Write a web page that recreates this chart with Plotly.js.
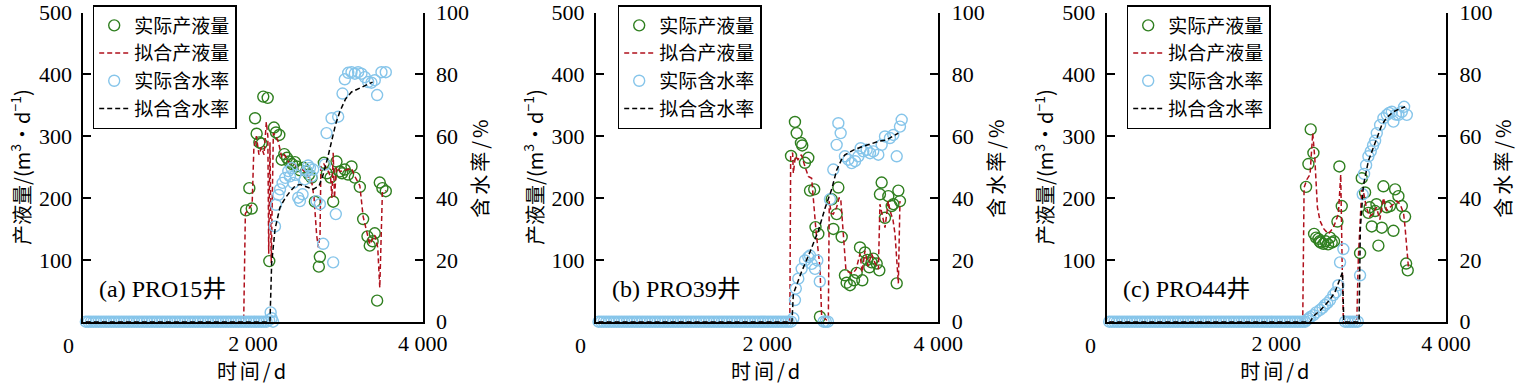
<!DOCTYPE html>
<html>
<head>
<meta charset="utf-8">
<script src="https://cdn.plot.ly/plotly-3.0.1.min.js"></script>
<style>
  html, body { margin: 0; padding: 0; background: #fff; }
  #chart { width: 1524px; height: 390px; }
  .xtitle, .x2title, .x3title, .y2title, .y4title, .y6title { letter-spacing: 3px; }
</style>
</head>
<body>
<div id="chart"></div>
<script>
// ---------------- DATA ----------------
// shut-in period (all wells): days with zero water cut
const baseDays = [30,60,90,120,150,180,210,240,270,300,330,360,
  390,420,450,480,510,540,570,600,630,660,690,720,
  750,780,810,840,870,900,930,960,990,1020,1050,1080,
  1110,1140,1170,1200,1230,1260,1290,1320,1350,1380,1410,1440,
  1470,1500,1530,1560,1590,1620,1650,1680,1710,1740,1770,1800,
  1830,1860,1890,1920,1950,1980,2010,2040,2070,2100,2130,2160];
const baseZeros = [0,0,0,0,0,0,0,0,0,0,0,0,
  0,0,0,0,0,0,0,0,0,0,0,0,
  0,0,0,0,0,0,0,0,0,0,0,0,
  0,0,0,0,0,0,0,0,0,0,0,0,
  0,0,0,0,0,0,0,0,0,0,0,0,
  0,0,0,0,0,0,0,0,0,0,0,0];

const seriesNames = ['实际产液量', '拟合产液量', '实际含水率', '拟合含水率'];
const panelLabels = ['(a) PRO15井', '(b) PRO39井', '(c) PRO44井'];
const xTickVals = [2000, 4000];
const xTickText = ['2 000', '4 000'];
const xZeroLabel = '0';
const yLeftTicks = [100, 200, 300, 400, 500];
const yRightTicks = [0, 20, 40, 60, 80, 100];
const xTitle = '时间/d';
const yLeftTitle = '产液量/(m<sup>3</sup>·d<sup>−1</sup>)';
const yRightTitle = '含水率/%';

// ---- (a) PRO15 ----
const aProdDays = [1918,1957,1985,2024,2043,2075,2102,2121,2173,2192,2247,2271,2310,2338,2369,2400,2427,2460,2494,2514,2550,2592,2632,2660,2690,2729,2776,2788,2835,2870,2914,2945,2984,3024,3050,3082,3120,3161,3200,3259,3298,3349,3376,3410,3435,3463,3494,3525,3565];
const aProdVals = [180,216,183,329,304,290,288,364,362,98,314,306,302,262,271,265,259,255,258,251,245,249,243,238,233,194,89,105,257,240,233,194,259,243,240,246,238,251,233,218,166,138,123,130,143,34,225,216,211];
const aFitProdDays = [30,1890,1910,1960,1990,2010,2040,2070,2100,2130,2157,2175,2185,2200,2215,2240,2270,2300,2340,2370,2420,2490,2520,2590,2630,2690,2720,2750,2770,2790,2800,2835,2880,2914,2930,2945,2960,2984,3024,3082,3161,3200,3259,3298,3349,3376,3435,3470,3494,3510,3525,3565];
const aFitProdVals = [0,0,175,185,190,280,300,270,282,270,323,300,110,290,95,305,300,290,265,270,258,255,250,245,240,228,200,140,120,140,250,255,245,235,200,273,200,250,243,245,248,235,220,170,140,125,140,120,55,150,210,212];
const aWcDays = [2190,2208,2220,2236,2259,2271,2300,2318,2349,2380,2416,2435,2455,2475,2500,2533,2553,2584,2610,2632,2650,2671,2690,2710,2749,2788,2827,2847,2867,2926,2945,2976,3004,3055,3082,3122,3161,3200,3239,3278,3318,3357,3396,3435,3463,3514,3565];
const aWcVals = [0.5,3.0,1.1,0,30.8,37.8,41,42.8,44.9,46.5,48.7,47,49.7,44.9,47.5,40.1,39,41.2,46,48.7,50.5,49.7,47,49.2,39,38,25.2,50.8,61,65.8,19.2,34.8,66.3,73.8,78.4,80.5,80.7,80.2,80.7,80.2,79.1,77.5,77.3,78.1,73.3,80.7,80.7];
const aFitWcDays = [30,2200,2220,2260,2318,2380,2435,2500,2553,2630,2710,2780,2827,2880,2925,2975,3024,3090,3161,3250,3330,3410];
const aFitWcVals = [0,0,19,30,37,40,42,44,44.4,43.5,42.8,44,47.6,53,58,64,68,72,74.3,75.5,76.5,77.5];

// ---- (b) PRO39 ----
const bProdDays = [2279,2325,2345,2395,2410,2442,2481,2501,2550,2565,2598,2617,2754,2773,2812,2832,2871,2909,2929,2968,3015,3046,3085,3112,3143,3170,3194,3220,3240,3280,3311,3318,3338,3377,3416,3455,3475,3514,3533,3552];
const bProdVals = [268,323,305,289,285,257,265,212,214,153,142,8,198,150,174,217,137,75,63,59,67,79,120,67,112,100,88,96,102,94,83,206,225,168,203,187,190,62,212,195];
const bFitProdDays = [30,2265,2275,2298,2306,2330,2360,2400,2442,2481,2520,2571,2617,2637,2695,2715,2726,2750,2773,2812,2840,2859,2890,2921,2960,3000,3040,3085,3110,3143,3180,3220,3260,3300,3318,3377,3416,3435,3470,3494,3533,3552];
const bFitProdVals = [0,0,270,273,240,268,262,270,251,235,232,147,88,8,3,5,195,175,174,185,200,200,142,83,80,78,85,110,80,115,90,110,95,85,190,152,195,180,165,142,62,195];
const bWcDays = [2190,2220,2250,2280,2306,2325,2335,2364,2403,2442,2481,2501,2520,2559,2586,2615,2660,2685,2710,2734,2773,2812,2832,2859,2909,2948,2988,3027,3066,3093,3124,3163,3202,3240,3299,3338,3377,3435,3474,3514,3552,3572];
const bWcVals = [0,0,0,0,1.1,7,10.7,13.9,17.1,19.8,20.9,21.4,18.7,17.1,19.8,13,0,0,0,39.6,49.2,57.2,64.2,61,53.5,52.4,51.3,51.9,53.5,56.1,55.1,55.6,54.5,55.1,54,57.2,59.9,59.4,60.4,53.5,63.1,65.3];
const bFitWcDays = [30,2290,2306,2400,2500,2598,2680,2754,2812,2870,2909,3007,3100,3200,3300,3396,3533];
const bFitWcVals = [0,0,9,16,22.5,29.4,37,42.8,49,52.5,54,55.5,56.5,57.5,58.3,58.8,61];

// ---- (c) PRO44 ----
const cProdDays = [2350,2378,2405,2437,2445,2468,2496,2510,2523,2555,2580,2610,2633,2653,2680,2720,2743,2771,2987,3007,3046,3085,3100,3125,3164,3180,3203,3243,3262,3302,3341,3380,3400,3439,3479,3518,3530,3549];
const cProdVals = [218,255,311,273,142,136,134,130,128,126,130,125,136,128,130,162,251,187,111,232,209,176,185,154,179,190,123,152,219,185,187,147,214,203,187,170,94,83];
const cFitProdDays = [30,2311,2327,2360,2397,2429,2453,2484,2515,2560,2613,2672,2731,2759,2775,2790,2948,2967,3007,3026,3060,3100,3140,3180,3220,3262,3300,3340,3380,3420,3460,3500,3518,3557];
const cFitProdVals = [0,0,217,230,238,305,265,185,163,150,142,152,174,238,100,0,0,104,215,211,185,170,175,185,165,200,180,185,190,195,190,175,152,88];
const cWcDays = [2190,2220,2250,2280,2310,2340,2358,2380,2400,2437,2470,2515,2545,2574,2600,2633,2672,2700,2731,2751,2790,2810,2840,2870,2900,2930,2960,2987,3018,3034,3058,3085,3113,3140,3164,3184,3223,3262,3302,3330,3361,3380,3410,3439,3479,3506,3538];
const cWcVals = [0,0,0,0,0,0,0.5,1,1.5,2.1,3,3.8,4.5,5.4,6,7,8.6,9.5,11.8,19.2,23.5,0,0,0,0,0,0,15,41.2,47.8,50.6,53.5,55.1,57,58.5,61,63.6,65.8,66.9,67.5,67.9,64.7,67,66.9,67.9,69.5,66.9];
const cFitWcDays = [30,2400,2437,2515,2574,2633,2690,2751,2780,2795,2975,2990,3026,3085,3144,3200,3243,3300,3380,3450,3518];
const cFitWcVals = [0,0,1.8,3.6,5.3,7.2,9.5,13.5,16,0,0,30,44,52,56.1,60,63.6,66,67.9,68.8,69.5];

// ---------------- STYLE / LAYOUT ----------------
const W = 1524, H = 390;
const GREEN = '#2f7f1f', RED = '#b0101c', BLUE = '#86c5ea', BLACK = '#000000';
const SERIF = '"Liberation Serif", "Times New Roman", "Noto Sans CJK SC", serif';
const CJK = '"Noto Sans CJK SC", "Liberation Serif", sans-serif';
const TICK_SIZE = 22;

const plotLeft = [83.3, 596, 1106.7];
const plotRight = [422.7, 938.3, 1446];
const plotTop = 12.5, plotBottom = 321.7;
const legendLeft = [92.7, 617.7, 1126.7];
const zeroLabelX = [68, 580.7, 1090.7];

const fx = v => v / W;
const fy = v => 1 - v / H;

const panels = [
  {prod:[aProdDays,aProdVals], fitProd:[aFitProdDays,aFitProdVals], wc:[aWcDays,aWcVals], fitWc:[aFitWcDays,aFitWcVals]},
  {prod:[bProdDays,bProdVals], fitProd:[bFitProdDays,bFitProdVals], wc:[bWcDays,bWcVals], fitWc:[bFitWcDays,bFitWcVals]},
  {prod:[cProdDays,cProdVals], fitProd:[cFitProdDays,cFitProdVals], wc:[cWcDays,cWcVals], fitWc:[cFitWcDays,cFitWcVals]}
];

const traces = [];
const layout = {
  width: W, height: H,
  margin: {l: 0, r: 0, t: 0, b: 0},
  paper_bgcolor: '#fff', plot_bgcolor: 'rgba(0,0,0,0)',
  showlegend: true,
  font: {family: SERIF, size: TICK_SIZE, color: '#000'},
  annotations: [],
  hovermode: false
};

panels.forEach((p, i) => {
  const xa = i === 0 ? 'x' : 'x' + (i + 1);
  const yl = 'y' + (i === 0 ? '' : (2 * i + 1));
  const yr = 'y' + (2 * i + 2);
  const lg = i === 0 ? 'legend' : 'legend' + (i + 1);
  const marker = c => ({symbol: 'circle-open', size: 11, color: c, line: {width: 1.4, color: c}});

  traces.push({type: 'scatter', mode: 'markers', name: seriesNames[0], legend: lg,
    x: p.prod[0], y: p.prod[1], xaxis: xa, yaxis: yl, marker: marker(GREEN), cliponaxis: false});
  traces.push({type: 'scatter', mode: 'lines', name: seriesNames[1], legend: lg,
    x: p.fitProd[0], y: p.fitProd[1], xaxis: xa, yaxis: yl, line: {color: RED, width: 1.5, dash: '5px,3px'}});
  traces.push({type: 'scatter', mode: 'markers', name: seriesNames[2], legend: lg,
    x: baseDays.concat(p.wc[0]), y: baseZeros.concat(p.wc[1]), xaxis: xa, yaxis: yr, marker: marker(BLUE), cliponaxis: false});
  traces.push({type: 'scatter', mode: 'lines', name: seriesNames[3], legend: lg,
    x: p.fitWc[0], y: p.fitWc[1], xaxis: xa, yaxis: yr, line: {color: BLACK, width: 1.5, dash: '5px,3px'}});

  const xKey = i === 0 ? 'xaxis' : 'xaxis' + (i + 1);
  const ylKey = i === 0 ? 'yaxis' : 'yaxis' + (2 * i + 1);
  const yrKey = 'yaxis' + (2 * i + 2);
  const yDom = [fy(plotBottom), fy(plotTop)];

  layout[xKey] = {
    domain: [fx(plotLeft[i]), fx(plotRight[i])],
    anchor: yl, range: [0, 4000], fixedrange: true,
    showline: true, linecolor: '#000', linewidth: 2,
    showgrid: false, zeroline: false, ticks: '',
    tickmode: 'array', tickvals: xTickVals, ticktext: xTickText,
    tickfont: {family: SERIF, size: TICK_SIZE, color: '#000'},
    ticklabelstandoff: 1, ticklabeloverflow: 'allow',
    automargin: false,
    title: {text: xTitle, font: {family: CJK, size: 20, color: '#000'}, standoff: 10}
  };
  layout[ylKey] = {
    domain: yDom, anchor: xa, range: [0, 500], fixedrange: true,
    showline: true, linecolor: '#000', linewidth: 2,
    showgrid: false, zeroline: false,
    ticks: 'inside', ticklen: 8, tickwidth: 2, tickcolor: '#000',
    tickmode: 'array', tickvals: yLeftTicks,
    tickfont: {family: SERIF, size: TICK_SIZE, color: '#000'},
    ticklabelstandoff: 5, ticklabeloverflow: 'allow',
    automargin: false,
    title: {text: yLeftTitle, font: {family: CJK, size: 20, color: '#000'}, standoff: 3}
  };
  layout[yrKey] = {
    overlaying: yl, side: 'right', anchor: xa, range: [0, 100], fixedrange: true,
    showline: true, linecolor: '#000', linewidth: 2,
    showgrid: false, zeroline: false,
    ticks: 'inside', ticklen: 8, tickwidth: 2, tickcolor: '#000',
    tickmode: 'array', tickvals: yRightTicks,
    tickfont: {family: SERIF, size: TICK_SIZE, color: '#000'},
    ticklabelstandoff: 7, ticklabeloverflow: 'allow',
    automargin: false,
    title: {text: yRightTitle, font: {family: CJK, size: 20, color: '#000'}, standoff: 6}
  };
  layout[lg] = {
    x: fx(legendLeft[i]), y: fy(5), xanchor: 'left', yanchor: 'top',
    bgcolor: '#fff', bordercolor: '#000', borderwidth: 1.5,
    font: {family: CJK, size: 19, color: '#000'},
    tracegroupgap: 0, itemwidth: 30, traceorder: 'normal'
  };
  layout.annotations.push({
    xref: 'paper', yref: 'paper', x: fx(plotLeft[i] + 14), y: fy(289),
    xanchor: 'left', yanchor: 'middle', showarrow: false,
    text: panelLabels[i], font: {family: SERIF, size: 24, color: '#000'}
  });
  layout.annotations.push({
    xref: 'paper', yref: 'paper', x: fx(zeroLabelX[i]), y: fy(345),
    xanchor: 'center', yanchor: 'middle', showarrow: false,
    text: xZeroLabel, font: {family: SERIF, size: TICK_SIZE, color: '#000'}
  });
});

Plotly.newPlot('chart', traces, layout, {staticPlot: true, displayModeBar: false});
</script>
</body>
</html>
